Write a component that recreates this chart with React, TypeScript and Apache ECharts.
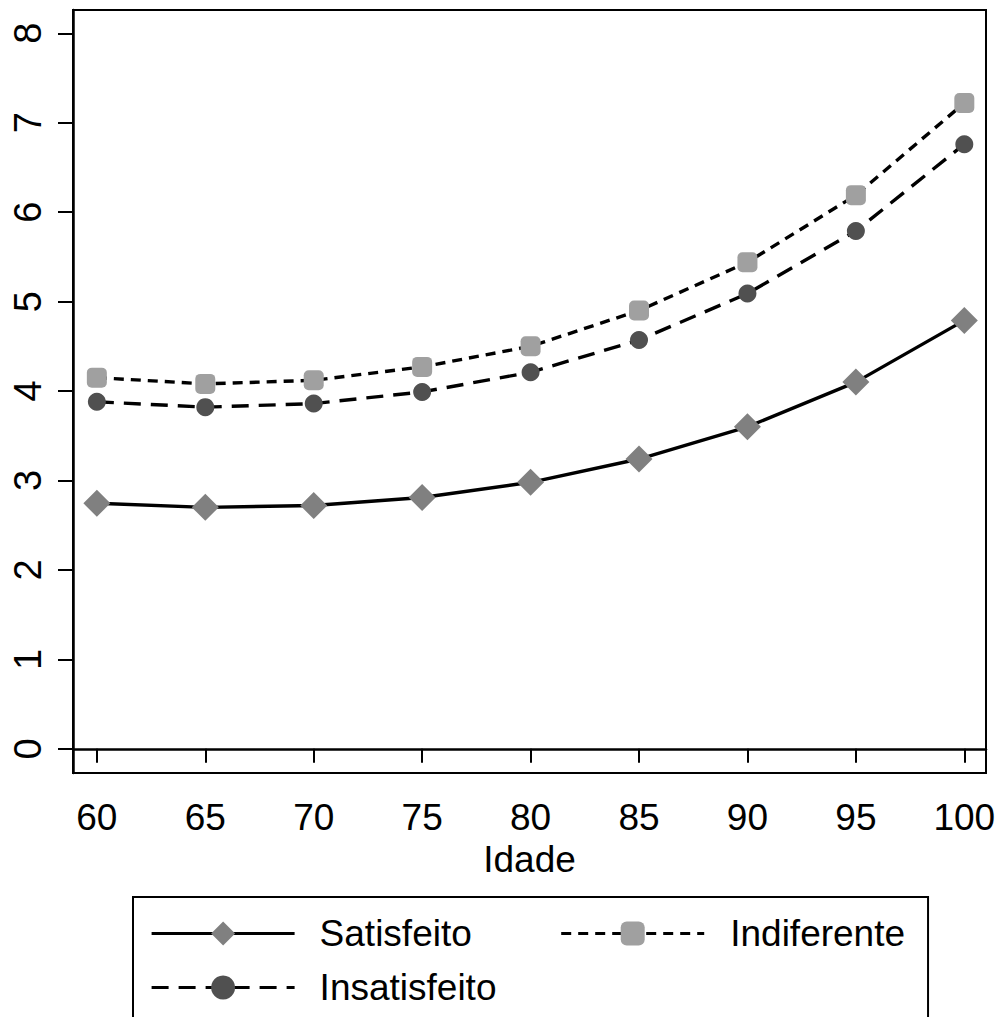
import React, { useEffect, useRef } from "react";
import * as echarts from "echarts";

const ages = [60, 65, 70, 75, 80, 85, 90, 95, 100];
const satisfeito = [2.745, 2.7, 2.72, 2.81, 2.98, 3.24, 3.6, 4.1, 4.79];
const insatisfeito = [3.88, 3.82, 3.86, 3.99, 4.21, 4.57, 5.09, 5.79, 6.76];
const indiferente = [4.15, 4.08, 4.12, 4.27, 4.5, 4.9, 5.44, 6.19, 7.22];
const yTicks = [0, 1, 2, 3, 4, 5, 6, 7, 8];
const xTicks = [60, 65, 70, 75, 80, 85, 90, 95, 100];

const FONT = "Liberation Sans";

export default function App() {
  const ref = useRef<HTMLDivElement>(null);
  useEffect(() => {
    if (!ref.current) return;
    const chart = echarts.init(ref.current, undefined, { renderer: "svg" });
    const pair = (ys: number[]) => ages.map((a, i) => [a, ys[i]]);
    chart.setOption({
      animation: false,
      backgroundColor: "#fff",
      grid: {
        left: 73,
        right: 15,
        top: 10,
        bottom: 244,
        show: true,
        borderColor: "#000",
        borderWidth: 2,
      },
      xAxis: {
        type: "value",
        min: 58.9,
        max: 101,
        name: "Idade",
        nameLocation: "middle",
        nameGap: 62,
        nameTextStyle: { color: "#000", fontSize: 37, fontFamily: FONT },
        axisLine: { show: true, lineStyle: { color: "#000", width: 2.5 } },
        axisTick: { show: true, length: 14, lineStyle: { color: "#000", width: 2 }, customValues: xTicks },
        axisLabel: { color: "#000", fontSize: 37, fontFamily: FONT, margin: 26, customValues: xTicks },
        splitLine: { show: false },
      },
      yAxis: {
        type: "value",
        min: -0.27,
        max: 8.26,
        axisLine: { show: true, lineStyle: { color: "#000", width: 2.5 } },
        axisTick: { show: true, length: 15, lineStyle: { color: "#000", width: 2 }, customValues: yTicks },
        axisLabel: { color: "#000", fontSize: 38, fontFamily: FONT, margin: 26, rotate: 90, customValues: yTicks },
        splitLine: { show: false },
      },
      legend: {
        left: 133,
        top: 897,
        width: 760,
        orient: "horizontal",
        padding: [18, 23, 40, 17],
        borderColor: "#000",
        borderWidth: 2,
        itemWidth: 143,
        itemHeight: 30,
        itemGap: 17,
        selectedMode: false,
        lineStyle: { width: 3.2 },
        textStyle: { color: "#000", fontSize: 37, fontFamily: FONT, lineHeight: 37 },
        data: [
          { name: "Satisfeito", textStyle: { width: 223, padding: [0, 0, 0, 20] } },
          { name: "Indiferente", textStyle: { padding: [0, 0, 0, 21] } },
          { name: "Insatisfeito", textStyle: { width: 223, padding: [0, 0, 0, 20] } },
        ],
      },
      series: [
        {
          name: "Satisfeito",
          type: "line",
          data: pair(satisfeito),
          symbol: "diamond",
          symbolSize: 27,
          lineStyle: { color: "#000", width: 3.4, type: "solid" },
          itemStyle: { color: "#808080" },
          z: 3,
        },
        {
          name: "Insatisfeito",
          type: "line",
          data: pair(insatisfeito),
          symbol: "circle",
          symbolSize: 18,
          lineStyle: { color: "#000", width: 3.4, type: [17, 10] },
          itemStyle: { color: "#505050" },
          z: 4,
        },
        {
          name: "Indiferente",
          type: "line",
          data: pair(indiferente),
          symbol: "roundRect",
          symbolSize: 20,
          lineStyle: { color: "#000", width: 3.4, type: [10, 7] },
          itemStyle: { color: "#a0a0a0" },
          z: 5,
        },
      ],
    });
    return () => chart.dispose();
  }, []);
  return (
    <div
      ref={ref}
      style={{ position: "absolute", left: 0, top: 0, width: 1001, height: 1017 }}
    />
  );
}
